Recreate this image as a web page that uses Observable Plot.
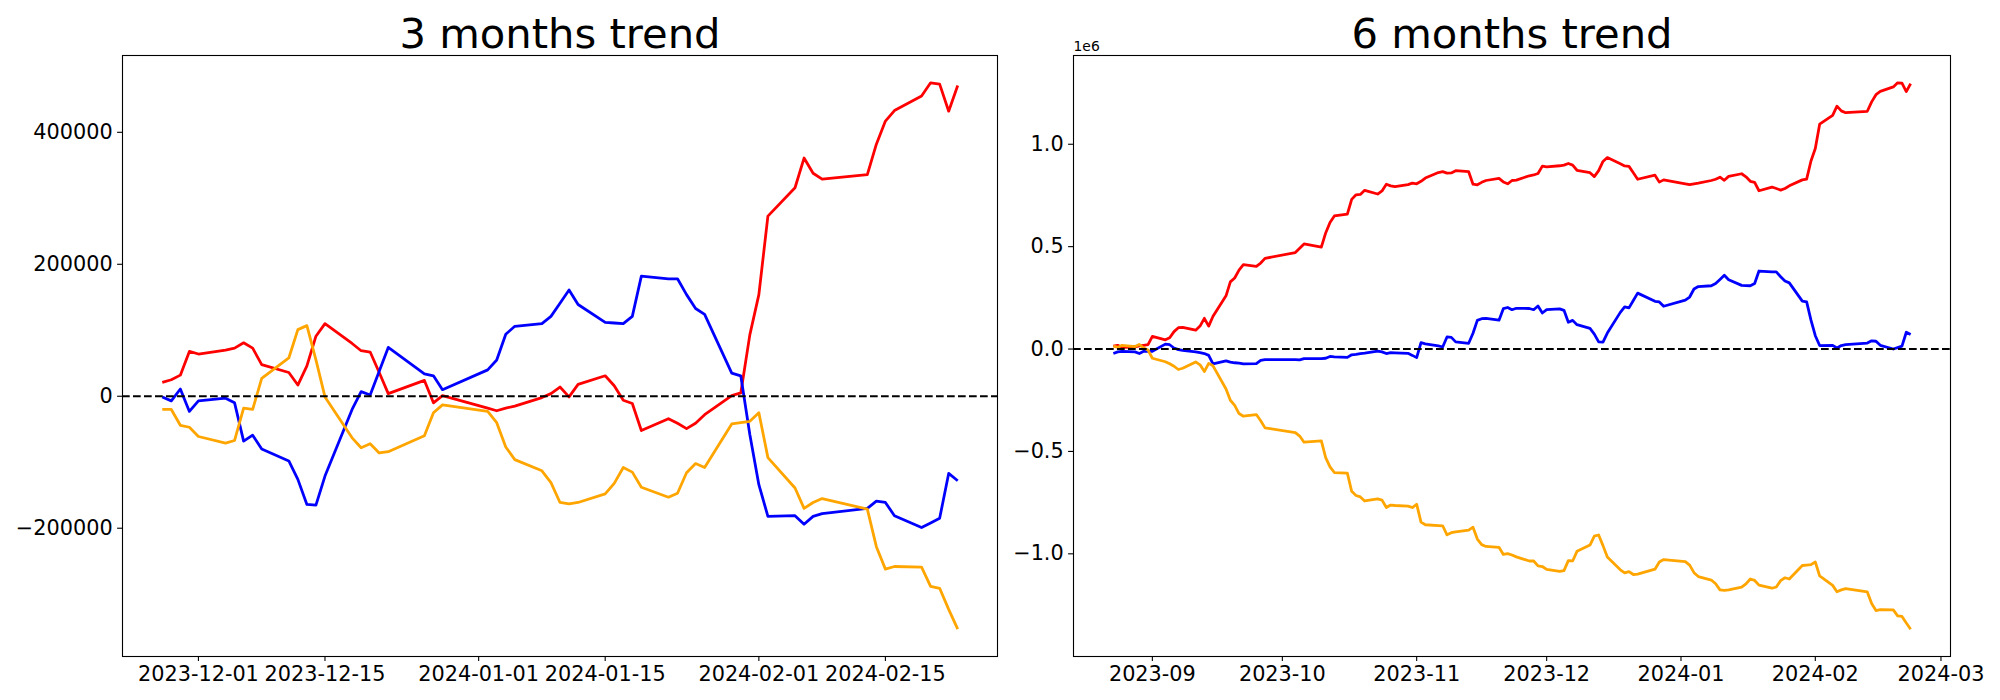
<!DOCTYPE html>
<html>
<head>
<meta charset="utf-8">
<script src="https://cdn.jsdelivr.net/npm/d3@7"></script>
<script src="https://cdn.jsdelivr.net/npm/@observablehq/plot@0.6"></script>
<style>
  html, body { margin: 0; padding: 0; background: #fff; }
  #wrap { display: flex; width: 2000px; height: 700px; }
  #wrap svg { display: block; }
</style>
</head>
<body>
<div id="wrap"><div id="left"></div><div id="right"></div></div>
<script>
// ---------- 3 months panel ----------
const dates3m = [
  "2023-11-27","2023-11-28","2023-11-29","2023-11-30",
  "2023-12-01","2023-12-04","2023-12-05","2023-12-06","2023-12-07","2023-12-08","2023-12-11","2023-12-12","2023-12-13","2023-12-14","2023-12-15","2023-12-18","2023-12-19","2023-12-20","2023-12-21","2023-12-22","2023-12-26","2023-12-27","2023-12-28",
  "2024-01-02","2024-01-03","2024-01-04","2024-01-05","2024-01-08","2024-01-09","2024-01-10","2024-01-11","2024-01-12","2024-01-15","2024-01-16","2024-01-17","2024-01-18","2024-01-19","2024-01-22","2024-01-23","2024-01-24","2024-01-25","2024-01-26","2024-01-29","2024-01-30","2024-01-31",
  "2024-02-01","2024-02-02","2024-02-05","2024-02-06","2024-02-07","2024-02-08","2024-02-13","2024-02-14","2024-02-15","2024-02-16","2024-02-19","2024-02-20","2024-02-21","2024-02-22","2024-02-23"
];
const red3m = [21000,25000,32000,68000,
  64000,70000,73000,81000,73000,48000,36000,17000,46000,91000,110000,80000,69000,67000,36000,4000,24000,-10000,1000,
  -18000,-22000,-18000,-15000,-2000,4000,14000,-1000,18000,31000,16000,-6000,-11000,-52000,-34000,-41000,-49000,-41000,-28000,1000,5000,93000,
  154000,273000,316000,361000,338000,329000,336000,382000,417000,433000,455000,475000,473000,432000,471000];
const blue3m = [-1000,-7000,11000,-23000,
  -7000,-3000,-10000,-68000,-59000,-80000,-98000,-126000,-164000,-165000,-121000,-20000,7000,2000,38000,74000,34000,31000,10000,
  40000,55000,94000,106000,110000,121000,141000,161000,139000,112000,111000,110000,121000,182000,178000,178000,154000,133000,124000,35000,31000,-58000,
  -134000,-182000,-181000,-194000,-182000,-178000,-170000,-159000,-161000,-181000,-199000,-192000,-185000,-117000,-128000];
const orange3m = [-20000,-20000,-44000,-47000,
  -61000,-71000,-67000,-18000,-20000,27000,58000,101000,107000,55000,-1000,-63000,-78000,-72000,-86000,-84000,-60000,-25000,-13000,
  -23000,-40000,-77000,-96000,-113000,-131000,-161000,-163000,-161000,-148000,-132000,-108000,-115000,-138000,-153000,-147000,-116000,-102000,-108000,-42000,-40000,-38000,
  -25000,-93000,-139000,-170000,-161000,-155000,-171000,-228000,-262000,-258000,-259000,-288000,-291000,-323000,-353000];
const xTicks3m = ["2023-12-01","2023-12-15","2024-01-01","2024-01-15","2024-02-01","2024-02-15"];
const yTicks3m = [-200000, 0, 200000, 400000];

// ---------- 6 months panel ----------
const dates6mHead = [
  "2023-08-23","2023-08-24","2023-08-25","2023-08-28","2023-08-29","2023-08-30","2023-08-31",
  "2023-09-01","2023-09-04","2023-09-05","2023-09-06","2023-09-07","2023-09-08","2023-09-11","2023-09-12","2023-09-13","2023-09-14","2023-09-15","2023-09-18","2023-09-19","2023-09-20","2023-09-21","2023-09-22","2023-09-25","2023-09-26","2023-09-27",
  "2023-10-04","2023-10-05","2023-10-06","2023-10-10","2023-10-11","2023-10-12","2023-10-13","2023-10-16","2023-10-17","2023-10-18","2023-10-19","2023-10-20","2023-10-23","2023-10-24","2023-10-25","2023-10-26","2023-10-27","2023-10-30","2023-10-31",
  "2023-11-01","2023-11-02","2023-11-03","2023-11-06","2023-11-07","2023-11-08","2023-11-09","2023-11-10","2023-11-13","2023-11-14","2023-11-15","2023-11-16","2023-11-17","2023-11-20","2023-11-21","2023-11-22","2023-11-23","2023-11-24"
];
const dates6m = dates6mHead.concat(dates3m);
const red6m = [14000,18000,8000,10000,15000,18000,21000,
  62000,45000,55000,85000,104000,106000,92000,112000,150000,112000,160000,260000,328000,347000,385000,412000,404000,420000,443000,
  471000,492000,513000,498000,567000,618000,650000,659000,731000,753000,755000,775000,757000,772000,805000,797000,793000,803000,810000,
  807000,819000,835000,862000,866000,859000,860000,871000,866000,805000,802000,814000,823000,833000,816000,807000,823000,825000,
  846000,850000,857000,893000,
  889000,895000,898000,906000,898000,873000,861000,842000,871000,916000,935000,905000,894000,892000,861000,829000,849000,815000,826000,
  807000,803000,807000,810000,823000,829000,839000,824000,843000,856000,841000,819000,814000,773000,791000,784000,776000,784000,797000,826000,830000,918000,
  979000,1098000,1141000,1186000,1163000,1154000,1161000,1207000,1242000,1258000,1280000,1300000,1298000,1257000,1296000];
const blue6m = [-22000,-14000,-11000,-14000,-22000,-11000,-10000,
  -11000,24000,21000,5000,-3000,-7000,-14000,-18000,-22000,-31000,-72000,-58000,-64000,-67000,-69000,-72000,-71000,-55000,-52000,
  -52000,-53000,-47000,-47000,-45000,-36000,-38000,-41000,-28000,-26000,-22000,-20000,-10000,-14000,-22000,-18000,-19000,-21000,-31000,
  -42000,31000,25000,15000,10000,59000,57000,35000,28000,77000,140000,148000,150000,141000,197000,203000,192000,199000,
  198000,192000,210000,176000,
  192000,196000,189000,131000,140000,119000,101000,73000,35000,34000,78000,179000,206000,201000,237000,273000,233000,230000,209000,
  239000,254000,293000,305000,309000,320000,340000,360000,338000,311000,310000,309000,320000,381000,377000,377000,353000,332000,323000,234000,230000,141000,
  65000,17000,18000,5000,17000,21000,29000,40000,38000,18000,0,7000,14000,82000,71000];
const orange6m = [15000,8000,18000,12000,22000,5000,-5000,
  -45000,-62000,-72000,-84000,-100000,-94000,-63000,-77000,-110000,-70000,-82000,-195000,-250000,-275000,-315000,-328000,-320000,-350000,-385000,
  -408000,-425000,-455000,-448000,-530000,-575000,-603000,-606000,-695000,-715000,-722000,-742000,-732000,-738000,-774000,-762000,-764000,-767000,-774000,
  -758000,-845000,-858000,-862000,-863000,-907000,-897000,-893000,-884000,-870000,-928000,-955000,-964000,-968000,-1003000,-999000,-1006000,-1015000,
  -1035000,-1035000,-1059000,-1062000,
  -1076000,-1086000,-1082000,-1033000,-1035000,-988000,-957000,-914000,-908000,-960000,-1016000,-1078000,-1093000,-1087000,-1101000,-1099000,-1075000,-1040000,-1028000,
  -1038000,-1055000,-1092000,-1111000,-1128000,-1146000,-1176000,-1178000,-1176000,-1163000,-1147000,-1123000,-1130000,-1153000,-1168000,-1162000,-1131000,-1117000,-1123000,-1057000,-1055000,-1053000,
  -1040000,-1108000,-1154000,-1185000,-1176000,-1170000,-1186000,-1243000,-1277000,-1273000,-1274000,-1303000,-1306000,-1338000,-1368000];
const xTicks6m = ["2023-09-01","2023-10-01","2023-11-01","2023-12-01","2024-01-01","2024-02-01","2024-03-01"];
const yTicks6m = [-1000000, -500000, 0, 500000, 1000000];

const seriesColors = ["red", "blue", "orange"];
const titles = ["3 months trend", "6 months trend"];

const minus = s => s.replace("-", "\u2212");

function padded(lo, hi) { const p = (hi - lo) * 0.05; return [lo - p, hi + p]; }

function panel({dates, series, xTicks, xFmt, yTicks, yFmt, title, marginLeft, marginRight, offsetText}) {
  const ds = dates.map(d => new Date(d));
  const tRange = padded(+ds[0], +ds[ds.length - 1]);
  const all = series.flat();
  const yRange = padded(d3.min(all), d3.max(all));
  const lines = series.map((vals, k) =>
    Plot.line(ds.map((d, i) => ({date: d, value: vals[i]})), {
      x: "date", y: "value", stroke: seriesColors[k], strokeWidth: 2.78,
      strokeLinejoin: "round", strokeLinecap: "butt"
    }));
  const extra = offsetText ? [Plot.text([offsetText], {
    frameAnchor: "top-left", textAnchor: "start", lineAnchor: "bottom",
    dy: -4.6, fontSize: 13.9, fill: "black", text: d => d
  })] : [];
  return Plot.plot({
    width: 1000, height: 700,
    marginTop: 55, marginBottom: 44, marginLeft, marginRight,
    style: {fontFamily: "DejaVu Sans, sans-serif", fontSize: "20.8px", color: "black", background: "white", overflow: "visible"},
    x: {type: "utc", domain: [new Date(tRange[0]), new Date(tRange[1])]},
    y: {domain: yRange},
    marks: [
      ...lines,
      Plot.ruleY([0], {stroke: "black", strokeWidth: 2.08, strokeDasharray: "7.7,3.3"}),
      Plot.frame({stroke: "black", strokeWidth: 1.1}),
      Plot.axisX({ticks: xTicks.map(d => new Date(d)), tickFormat: xFmt, tickSize: 4.9, tickPadding: 4.9,
        strokeWidth: 1.1, label: null, fontSize: 20.8, fill: "black"}),
      Plot.axisY({ticks: yTicks, tickFormat: yFmt, tickSize: 4.9, tickPadding: 4.9,
        strokeWidth: 1.1, label: null, fontSize: 20.8, fill: "black"}),
      Plot.text([title], {frameAnchor: "top", lineAnchor: "bottom", dy: -8, fontSize: 41.7, fill: "black", text: d => d}),
      ...extra
    ]
  });
}

document.getElementById("left").append(panel({
  dates: dates3m, series: [red3m, blue3m, orange3m],
  xTicks: xTicks3m, xFmt: d3.utcFormat("%Y-%m-%d"),
  yTicks: yTicks3m, yFmt: d => minus(String(d)),
  title: titles[0], marginLeft: 122, marginRight: 3
}));
document.getElementById("right").append(panel({
  dates: dates6m, series: [red6m, blue6m, orange6m],
  xTicks: xTicks6m, xFmt: d3.utcFormat("%Y-%m"),
  yTicks: yTicks6m, yFmt: d => minus((d / 1e6).toFixed(1)),
  title: titles[1], marginLeft: 73, marginRight: 50, offsetText: "1e6"
}));
</script>
</body>
</html>
